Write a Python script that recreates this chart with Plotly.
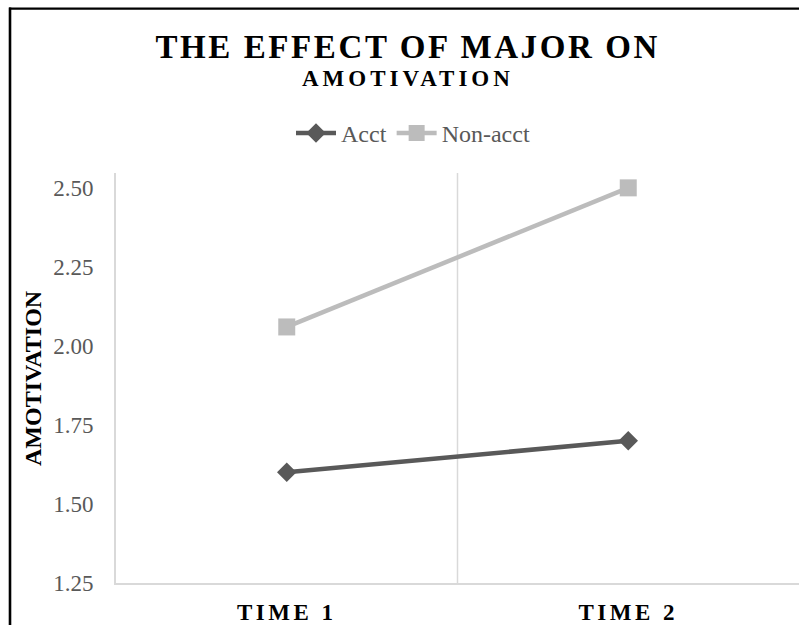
import plotly.graph_objects as go

# ---- data ----
categories = ["TIME 1", "TIME 2"]
acct = [1.60, 1.70]
non_acct = [2.06, 2.50]
y_ticks = [1.25, 1.50, 1.75, 2.00, 2.25, 2.50]
y_tick_text = ["1.25", "1.50", "1.75", "2.00", "2.25", "2.50"]

W, H = 799, 625
L, R, T, B = 116, 0, 173, 38
PW, PH = W - L - R, H - T - B


def px_x(px):
    return (px - L) / PW


def px_y(py):
    return (H - B - py) / PH


serif = "Liberation Serif, Times New Roman, serif"
x_pos = list(range(1, len(categories) + 1))

fig = go.Figure()
fig.add_trace(go.Scatter(
    x=x_pos, y=acct, name="Acct", mode="lines+markers",
    line=dict(color="#595959", width=4.5),
    marker=dict(symbol="diamond", size=15, color="#595959"),
))
fig.add_trace(go.Scatter(
    x=x_pos, y=non_acct, name="Non-acct", mode="lines+markers",
    line=dict(color="#bcbcbc", width=4.5),
    marker=dict(symbol="square", size=17, color="#bcbcbc"),
))

shapes = [
    # category separator gridline
    dict(type="line", xref="x", yref="paper", x0=1.5, x1=1.5, y0=0, y1=1,
         line=dict(color="#d9d9d9", width=1.5), layer="below"),
    # chart frame (left and top)
    dict(type="line", xref="paper", yref="paper", x0=px_x(10), x1=px_x(10),
         y0=px_y(6), y1=px_y(640), line=dict(color="black", width=2.6)),
    dict(type="line", xref="paper", yref="paper", x0=px_x(9), x1=px_x(805),
         y0=px_y(7), y1=px_y(7), line=dict(color="black", width=2.4)),
]

annotations = [
    dict(text="<b>THE EFFECT OF MAJOR ON</b>", xref="paper", yref="paper",
         x=px_x(407.5), y=px_y(46), xanchor="center", yanchor="middle",
         showarrow=False, font=dict(family=serif, size=33, color="black")),
    dict(text="<b>AMOTIVATION</b>", xref="paper", yref="paper",
         x=px_x(407.5), y=px_y(78), xanchor="center", yanchor="middle",
         showarrow=False, font=dict(family=serif, size=23, color="black")),
    dict(text="<b>AMOTIVATION</b>", xref="paper", yref="paper",
         x=px_x(33), y=px_y(380), xanchor="center", yanchor="middle",
         textangle=-90, showarrow=False,
         font=dict(family=serif, size=24, color="black")),
]

fig.update_layout(
    width=W, height=H,
    margin=dict(l=L, r=R, t=T, b=B, pad=0),
    paper_bgcolor="white", plot_bgcolor="white",
    showlegend=True,
    legend=dict(orientation="h", x=px_x(413), y=px_y(133),
                xanchor="center", yanchor="middle",
                font=dict(family=serif, size=24, color="#595959"),
                itemwidth=40, tracegroupgap=0, bgcolor="rgba(0,0,0,0)"),
    shapes=shapes,
    annotations=annotations,
    xaxis=dict(
        range=[0.5, len(categories) + 0.5],
        tickmode="array", tickvals=x_pos,
        ticktext=["<b>%s</b>" % c for c in categories],
        tickfont=dict(family=serif, size=23, color="black"),
        showgrid=False, zeroline=False, ticks="",
        showline=True, linecolor="#d9d9d9", linewidth=2,
        ticklabelstandoff=7,
        fixedrange=True,
    ),
    yaxis=dict(
        range=[1.25, 2.547],
        tickmode="array", tickvals=y_ticks, ticktext=y_tick_text,
        tickfont=dict(family=serif, size=23, color="#595959"),
        showgrid=False, zeroline=False, ticks="",
        showline=True, linecolor="#d9d9d9", linewidth=2,
        ticklabelstandoff=16,
        fixedrange=True,
    ),
)

post = """
var gd = document.getElementById('{plot_id}');
document.body.style.margin = '0';
var sp = [2.6, 4, 0];
gd.querySelectorAll('.annotation-text').forEach(function(t, i){
  if (sp[i]) { t.style.letterSpacing = sp[i] + 'px'; }
});
gd.querySelectorAll('.xtick text').forEach(function(t){
  t.style.letterSpacing = '3.5px';
});
"""

fig.write_html("out.html", post_script=post, config={"displayModeBar": False})
